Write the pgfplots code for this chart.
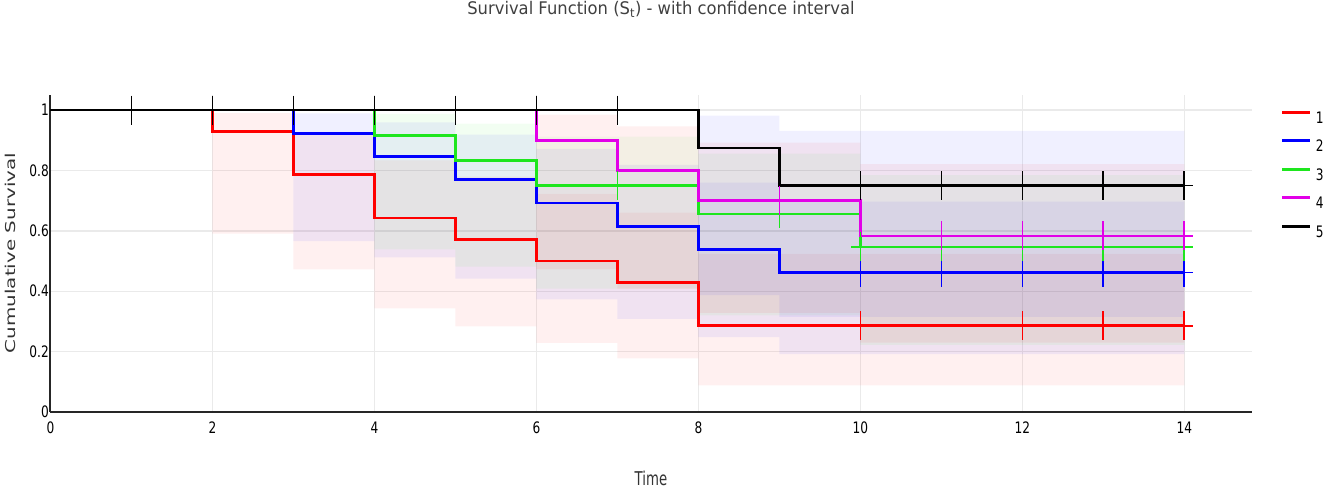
\documentclass[border=0pt]{standalone}
\usepackage{fontspec}
\setmainfont{DejaVu Sans}
\newfontfamily\narrowfont{DejaVu Sans}[FakeStretch=0.77]
\newfontfamily\titlefont{DejaVu Sans}[FakeStretch=0.94]
\newfontfamily\timefont{DejaVu Sans}[FakeStretch=0.7]
\newcommand\tickfont{\narrowfont\fontsize{15.8}{18.6}\selectfont}
\usepackage{pgfplots}
\pgfplotsset{compat=1.18}
\definecolor{cR}{RGB}{255,0,0}
\definecolor{cB}{RGB}{0,0,255}
\definecolor{cG}{RGB}{30,230,30}
\definecolor{cM}{RGB}{226,0,232}
\definecolor{cK}{RGB}{0,0,0}
\definecolor{gridc}{RGB}{234,234,234}
\begin{document}
\begin{tikzpicture}
\begin{axis}[
  scale only axis, width=1201.8pt, height=317pt,
  xmin=0, xmax=14.84, ymin=0, ymax=1.05,
  axis x line*=bottom, axis y line*=left,
  axis line style={line width=2pt, black!85, -},
  xtick={0,2,...,14}, ytick={0,0.2,0.4,0.6,0.8,1},
  major tick length=0pt,
  grid=major, grid style={line width=1.3pt, gridc},
  clip=false,
  /pgf/number format/assume math mode=true,
  xticklabel={\tickfont\pgfmathprintnumber{\tick}},
  yticklabel={\tickfont\pgfmathprintnumber{\tick}},
  yticklabel style={anchor=east, inner sep=0pt, xshift=-1.5pt},
  xticklabel style={anchor=north, inner sep=0pt, yshift=-9.7pt},
  title={\titlefont\fontsize{17.4}{20}\selectfont Survival Function (S\textsubscript{t}) - with confidence interval},
  title style={at={(0.508,1.234)}, anchor=base, inner sep=0pt, text=black!75},
  xlabel={\timefont\fontsize{19}{22}\selectfont Time},
  xlabel style={at={(0.4996,-0.2325)}, anchor=base, inner sep=0pt, text=black!80},
  ylabel={\scalebox{1.17}[0.8]{\fontsize{17}{20}\selectfont Cumulative Survival}},
  ylabel style={at={(-0.0337,0.5016)}, anchor=center, inner sep=0pt, text=black!80},
  legend style={at={(1.0237,0.951)}, anchor=north west, draw=none, fill=none,
    inner sep=0pt, outer sep=0pt, row sep=16pt, column sep=4pt,
    nodes={inner sep=0pt, text height=11pt, text depth=0pt}},
  legend cell align=left,
  legend image code/.code={\draw[#1, line width=3pt] (0pt,5.5pt) -- (28pt,5.5pt);},
]
% ---- confidence bands ----
\addplot[forget plot, draw=none, fill=cR, fill opacity=0.06] coordinates {
 (2,0.9896) (3,0.9896) (3,0.9254) (4,0.9254) (4,0.8331) (5,0.8331) (5,0.7797) (6,0.7797)
 (6,0.7221) (7,0.7221) (7,0.6604) (8,0.6604) (8,0.5237) (14,0.5237)
 (14,0.0883) (8,0.0883) (8,0.1773) (7,0.1773) (7,0.2286) (6,0.2286) (6,0.2840) (5,0.2840)
 (5,0.3433) (4,0.3433) (4,0.4725) (3,0.4725) (3,0.5908) (2,0.5908)} -- cycle;
\addplot[forget plot, draw=none, fill=cB, fill opacity=0.06] coordinates {
 (3,0.9888) (4,0.9888) (4,0.9592) (5,0.9592) (5,0.9191) (6,0.9191) (6,0.8718) (7,0.8718)
 (7,0.8185) (8,0.8185) (8,0.7599) (9,0.7599) (9,0.6964) (14,0.6964)
 (14,0.1916) (9,0.1916) (9,0.2476) (8,0.2476) (8,0.3083) (7,0.3083) (7,0.3734) (6,0.3734)
 (6,0.4421) (5,0.4421) (5,0.5122) (4,0.5122) (4,0.5663) (3,0.5663)} -- cycle;
\addplot[forget plot, draw=none, fill=cG, fill opacity=0.06] coordinates {
 (4,0.9878) (5,0.9878) (5,0.9555) (6,0.9555) (6,0.9117) (8,0.9117) (8,0.8557) (10,0.8557)
 (10,0.7848) (14,0.7848)
 (14,0.2224) (10,0.2224) (10,0.3204) (8,0.3204) (8,0.4084) (6,0.4084) (6,0.4817) (5,0.4817)
 (5,0.5390) (4,0.5390)} -- cycle;
\addplot[forget plot, draw=none, fill=cR, fill opacity=0.06] coordinates {
 (6,0.9853) (7,0.9853) (7,0.9459) (8,0.9459) (8,0.8920) (10,0.8920) (10,0.8207) (14,0.8207)
 (14,0.2298) (10,0.2298) (10,0.3287) (8,0.3287) (8,0.4087) (7,0.4087) (7,0.4730) (6,0.4730)} -- cycle;
\addplot[forget plot, draw=none, fill=cB, fill opacity=0.06] coordinates {
 (8,0.9814) (9,0.9814) (9,0.9309) (14,0.9309)
 (14,0.3148) (9,0.3148) (9,0.3870) (8,0.3870)} -- cycle;
% ---- survival step curves ----
\addplot[cR, line width=2.6pt, const plot] coordinates {
 (0,1) (2,0.92857) (3,0.78571) (4,0.64286) (5,0.57143) (6,0.5) (7,0.42857) (8,0.28571) (14,0.28571)};
\addlegendentry{\tickfont 1}
\addplot[cB, line width=2.6pt, const plot] coordinates {
 (0,1) (3,0.92308) (4,0.84615) (5,0.76923) (6,0.69231) (7,0.61538) (8,0.53846) (9,0.46154) (14,0.46154)};
\addlegendentry{\tickfont 2}
\addplot[cG, line width=2.6pt, const plot] coordinates {
 (0,1) (4,0.91667) (5,0.83333) (6,0.75) (8,0.65625) (10,0.54688) (14,0.54688)};
\addlegendentry{\tickfont 3}
\addplot[cM, line width=2.6pt, const plot] coordinates {
 (0,1) (6,0.9) (7,0.8) (8,0.7) (10,0.58333) (14,0.58333)};
\addlegendentry{\tickfont 4}
\addplot[cK, line width=2.6pt, const plot] coordinates {
 (0,1) (8,0.875) (9,0.75) (14,0.75)};
\addlegendentry{\tickfont 5}
% ---- censoring marks ----
\addplot[forget plot, only marks, cR, mark=+, mark size=14.5pt, mark options={xscale=0.62, line width=1.6pt}] coordinates {
 (10,0.28571) (12,0.28571) (13,0.28571) (14,0.28571)};
\addplot[forget plot, only marks, cB, mark=+, mark size=14.5pt, mark options={xscale=0.62, line width=1.6pt}] coordinates {
 (10,0.46154) (11,0.46154) (12,0.46154) (13,0.46154) (14,0.46154)};
\addplot[forget plot, only marks, cG, mark=+, mark size=14.5pt, mark options={xscale=0.62, line width=1.6pt}] coordinates {
 (7,0.75) (9,0.65625) (10,0.54688) (11,0.54688) (12,0.54688) (13,0.54688) (14,0.54688)};
\addplot[forget plot, only marks, cM, mark=+, mark size=14.5pt, mark options={xscale=0.62, line width=1.6pt}] coordinates {
 (9,0.7) (11,0.58333) (12,0.58333) (13,0.58333) (14,0.58333)};
\addplot[forget plot, only marks, cK, mark=+, mark size=14.5pt, mark options={xscale=0.62, line width=1.6pt}] coordinates {
 (1,1) (2,1) (3,1) (4,1) (5,1) (6,1) (7,1) (10,0.75) (11,0.75) (12,0.75) (13,0.75) (14,0.75)};
\end{axis}
\pgfresetboundingbox
\useasboundingbox (-50.5pt,-80pt) rectangle (1274.5pt,412pt);
\end{tikzpicture}
\end{document}
